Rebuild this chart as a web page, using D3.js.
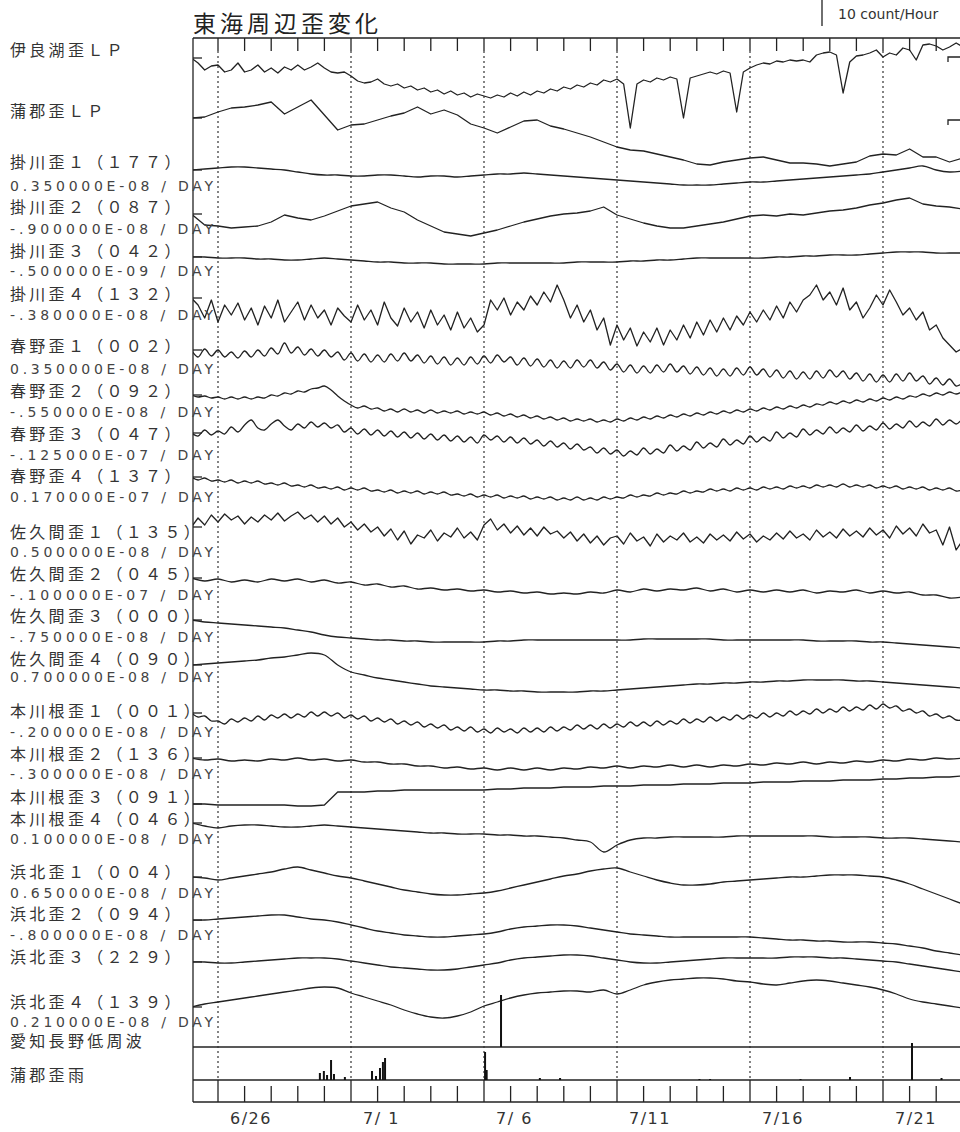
<!DOCTYPE html>
<html><head><meta charset="utf-8">
<script src="https://cdn.jsdelivr.net/npm/d3@7"></script>
<style>
body{margin:0;background:#fff}
svg{display:block}
</style></head>
<body>
<svg id="chart" width="960" height="1132"></svg>
<script>
// ---------------- DATA ----------------
// time axis: days since 6/25 00:00
const labelDays = [1, 6, 11, 16, 21, 26];
const dateLabels = ["6/26", "7/ 1", "7/ 6", "7/11", "7/16", "7/21"];
const tickDays = d3.range(1, 29);

const stationNames = ["伊良湖歪ＬＰ","蒲郡歪ＬＰ","掛川歪１（１７７）","掛川歪２（０８７）","掛川歪３（０４２）","掛川歪４（１３２）",
  "春野歪１（００２）","春野歪２（０９２）","春野歪３（０４７）","春野歪４（１３７）",
  "佐久間歪１（１３５）","佐久間歪２（０４５）","佐久間歪３（０００）","佐久間歪４（０９０）",
  "本川根歪１（００１）","本川根歪２（１３６）","本川根歪３（０９１）","本川根歪４（０４６）",
  "浜北歪１（００４）","浜北歪２（０９４）","浜北歪３（２２９）","浜北歪４（１３９）","愛知長野低周波","蒲郡歪雨"];
const rateLabels = [null,null,"0.350000E-08 / DAY","-.900000E-08 / DAY","-.500000E-09 / DAY","-.380000E-08 / DAY",
  "0.350000E-08 / DAY","-.550000E-08 / DAY","-.125000E-07 / DAY","0.170000E-07 / DAY",
  "0.500000E-08 / DAY","-.100000E-07 / DAY","-.750000E-08 / DAY","0.700000E-08 / DAY",
  "-.200000E-08 / DAY","-.300000E-08 / DAY",null,"0.100000E-08 / DAY",
  "0.650000E-08 / DAY","-.800000E-08 / DAY",null,"0.210000E-08 / DAY",null,null];

// strain traces (relative level, arbitrary units; 6-hourly or 12-hourly samples)
const irakoLP = [2,-3,-10,-6, -5,-12,-10,-3, -12,-10,-5,-12, -8,-13,-7,-10, -5,-10,-7,-3, -8,-12,-13,-12,
  -16,-21,-23,-22, -19,-24,-26,-24, -28,-26,-30,-28, -32,-30,-34,-31, -35,-33,-37,-34, -36,-38,-35,-37,
  -33,-36,-32,-35, -31,-33,-29,-31, -27,-29,-25,-27, -23,-25,-20,-22, -19,-24,-68,-24, -20,-22,-18,-20,
  -17,-19,-58,-18, -16,-14,-12,-14, -11,-13,-52,-12, -8,-5,-3,-4, -1,-2,0,-1, 0,-2,5,7, 8,5,-33,-2,
  4,5,7,10, 3,7,5,12, 10,0,15,16, 14,10,13,17, 13];
const gamagoriLP = [0,1,6,10,11,13,16,4,11,18, 3,-12,-7,-6,-2,2,5,11,4,8, 3,-6,-10,-15,-9,-3,-2,-8,-11,-15,
  -19,-24,-29,-32,-33,-36,-39,-42,-46,-47, -44,-42,-40,-39,-42,-45,-45,-46,-48,-46, -44,-38,-36,-37,-31,-39,-39,-44,-40];
const kakegawa1 = [0,1,2,3,3,2,1,0,-2,-4, -5,-5,-6,-6,-5,-5,-6,-7,-6,-6, -7,-6,-5,-4,-4,-3,-4,-5,-6,-7,
  -8,-9,-10,-11,-12,-13,-14,-15,-15,-15, -14,-13,-12,-12,-11,-10,-9,-8,-7,-6, -5,-4,-2,0,2,4,0,-2,-1];
const kakegawa2 = [-1,-12,-13,-15,-14,-13,-9,-2,-5,-7, -3,2,7,9,11,5,1,-7,-13,-19, -21,-23,-20,-17,-13,-9,-6,-3,-1,0,
  2,6,-2,-6,-10,-13,-15,-15,-13,-11, -9,-6,-3,-2,-3,-1,-2,0,2,3, 5,8,10,13,15,9,7,6,4];
const kakegawa3 = [0,0,-1,-1,-1,-2,-2,-3,-3,-2, -1,-2,-3,-4,-5,-5,-6,-6,-6,-7, -7,-7,-7,-6,-6,-6,-6,-6,-6,-5,
  -5,-5,-5,-4,-4,-3,-3,-2,-1,-1, -1,-1,-1,-1,0,0,1,1,2,2, 2,3,4,5,5,5,4,4,4];
const kakegawa4 = [0,-7,-20,-2, -24,-7,-17,-5, -22,-10,-27,-8, -20,-2,-24,-14, -4,-22,-7,-20, -12,-27,-10,-18,
  -24,-7,-22,-12, -27,-4,-20,-28, -10,-24,-14,-30, -12,-27,-17,-32, -14,-30,-20,-34, -27,-2,-12,0,
  -17,-4,-12,2, -7,6,-4,13, -2,-20,-7,-24, -12,-32,-20,-47, -27,-42,-30,-48, -34,-44,-30,-47,
  -32,-42,-27,-40, -24,-37,-22,-34, -20,-32,-18,-27, -14,-24,-12,-22, -8,-20,-4,-14, -2,3,13,-2,
  6,-7,10,-12, -4,-20,-10,3, -7,8,-4,-17, -10,-22,-14,-32, -27,-40,-47,-54, -50];
const haruno1 = [0,-7,1,-6, 0,-7,-2,-8, -1,-7,0,-6, 2,-4,7,-3, 3,-5,1,-6, 0,-7,-2,-10, -3,-11,-4,-12,
  -5,-12,-4,-11, -3,-11,-5,-13, -6,-14,-7,-15, -8,-15,-7,-14, -6,-13,-5,-12, -7,-15,-8,-16, -9,-17,-10,-18,
  -11,-18,-10,-17, -10,-18,-12,-20, -14,-22,-15,-23, -16,-23,-15,-22, -14,-22,-16,-24, -17,-25,-18,-26,
  -19,-26,-18,-25, -17,-25,-19,-27, -20,-28,-21,-29, -22,-29,-21,-28, -20,-27,-21,-29, -23,-31,-24,-32,
  -25,-32,-24,-31, -23,-31,-26,-34, -28,-35,-29,-36, -33];
const haruno2 = [0,-2,-1,-3, -2,-4,-2,-4, -2,-4,-2,-3, 0,-1,2,1, 4,3,6,7, 9,5,-1,-6, -10,-13,-11,-14,
  -13,-16,-14,-17, -14,-17,-15,-18, -15,-18,-16,-18, -16,-19,-17,-19, -17,-20,-18,-21, -19,-22,-20,-23,
  -21,-24,-22,-25, -23,-26,-24,-26, -24,-27,-25,-27, -24,-26,-23,-25, -22,-24,-21,-23, -20,-22,-19,-21,
  -18,-20,-17,-19, -16,-18,-15,-17, -14,-16,-13,-15, -12,-14,-11,-13, -10,-12,-9,-10, -7,-9,-6,-8,
  -5,-7,-4,-6, -3,-5,-2,-4, -1,-2,1,-1, 2,0,3,1, 4];
const haruno3 = [0,-3,3,-2, 2,-1,6,1, 8,13,5,3, 9,13,7,3, 9,5,11,6, 10,5,8,1, 5,-1,4,-2, 3,-3,2,-4,
  1,-5,0,-6, -1,-7,-2,-8, -3,-9,-4,-10, -2,-7,-3,-9, -4,-10,-5,-11, -7,-13,-8,-14, -10,-16,-11,-17,
  -14,-20,-15,-21, -17,-23,-18,-22, -15,-21,-16,-20, -12,-18,-13,-17, -9,-15,-10,-14, -6,-12,-7,-11,
  -3,-9,-4,-8, 1,-5,0,-4, 4,-2,3,-1, 6,0,5,1, 8,2,7,3, 10,4,9,5, 12,6,11,7, 14,8,13,9, 15];
const haruno4 = [0,-3,-1,-4, -3,-5,-3,-6, -4,-6,-4,-7, -6,-8,-6,-9, -8,-10,-8,-11, -10,-12,-10,-13,
  -11,-13,-11,-14, -13,-15,-13,-16, -14,-16,-14,-17, -15,-17,-15,-18, -17,-19,-17,-20, -18,-20,-18,-21,
  -19,-21,-19,-22, -20,-22,-20,-23, -21,-23,-20,-23, -21,-23,-20,-22, -20,-21,-18,-20, -18,-19,-16,-18,
  -16,-17,-14,-16, -14,-15,-12,-14, -12,-14,-11,-13, -11,-13,-10,-12, -10,-12,-9,-11, -9,-11,-8,-10,
  -8,-10,-7,-10, -8,-10,-8,-11, -9,-11,-9,-12, -10,-12,-10,-13, -11,-13,-11,-14, -13];
const sakuma1 = [0,9,2,12, 5,13,7,11, 3,10,5,12, 7,14,6,11, 15,8,12,5, 11,3,9,0, 5,-3,3,-5, 0,-9,-2,-13,
  -4,-17,-8,-11, -3,-14,-6,-10, -1,-11,-5,-13, 2,8,-3,3, -6,1,-8,-1, -9,0,-7,-4, -11,-5,-14,-7,
  -16,-9,-18,-11, -9,-17,-6,-14, -10,-19,-7,-15, -9,-13,-6,-15, -10,-16,-7,-13, -8,-14,-5,-12,
  -7,-15,-9,-13, -6,-12,-4,-11, -7,-13,-3,-10, -5,-11,-2,-9, -4,-10,-1,-8, -3,-11,1,-7, -1,-9,3,-6,
  -3,-18,0,-23, -13];
const sakuma2 = [0,-3,-1,-4,-2,-4,-1,-3,-1,-4, -2,-5,-4,-7,-6,-9,-8,-11,-10,-12, -11,-13,-12,-14,-13,-15,-14,-16,-15,-16,
  -14,-15,-12,-14,-11,-13,-11,-12,-10,-13, -11,-14,-12,-14,-12,-14,-12,-15,-13,-14, -12,-15,-13,-15,-14,-17,-17,-20,-19];
const sakuma3 = [0,-2,-3,-4,-5,-6,-7,-8,-10,-12, -15,-17,-18,-19,-20,-20,-21,-21,-22,-22, -22,-22,-22,-21,-21,-20,-20,-20,-20,-20,
  -20,-20,-20,-20,-19,-19,-19,-19,-19,-19, -20,-20,-20,-20,-20,-20,-20,-21,-21,-21, -21,-22,-22,-23,-24,-25,-26,-27,-28];
const sakuma4 = [0,1,2,3,4,5,7,8,10,12, 10,0,-7,-10,-13,-15,-17,-19,-21,-22, -23,-24,-25,-25,-26,-26,-27,-27,-27,-27,
  -26,-26,-25,-24,-23,-22,-21,-20,-19,-19, -18,-18,-17,-17,-16,-16,-15,-15,-15,-15, -16,-16,-17,-18,-19,-20,-21,-22,-23];
const honkawane1 = [0,-4,-3,-8, -8,-11,-6,-9, -5,-8,-3,-7, -2,-5,-1,-5, -1,-4,1,-3, 1,-3,0,-5, -2,-6,-3,-8,
  -5,-9,-6,-11, -8,-12,-9,-14, -11,-15,-12,-17, -14,-18,-14,-19, -16,-20,-15,-19, -16,-20,-15,-19,
  -15,-19,-14,-18, -14,-17,-12,-16, -12,-16,-11,-15, -11,-14,-9,-13, -9,-13,-8,-12, -8,-11,-6,-10,
  -6,-9,-4,-8, -4,-7,-2,-6, -2,-5,0,-4, 0,-3,2,-2, 2,-1,4,0, 4,1,6,2, 6,3,8,4, 9,5,7,2, 4,0,2,-3,
  -1,-5,-3,-7, -7];
const honkawane2 = [0,-2,-1,-3,-2,-3,-1,-2,0,-2, -1,-3,-2,-4,-4,-6,-6,-8,-8,-10, -9,-11,-10,-12,-10,-12,-10,-12,-10,-11,
  -9,-10,-8,-10,-8,-9,-7,-9,-7,-9, -7,-8,-6,-7,-5,-6,-4,-6,-4,-5, -3,-4,-2,-3,-1,-2,0,-1,0];
const honkawane3 = [0,0,-1,-1,-1,-1,-1,-1,-2,-2, -1,12,12,12,13,13,14,14,14,14, 14,14,14,15,15,16,16,16,17,17,
  17,18,18,18,19,19,19,20,20,20, 21,21,21,22,22,22,23,23,23,24, 24,24,25,25,26,26,27,27,28];
const honkawane4 = [0,-3,-5,-3,-2,-2,-3,-4,-4,-3, -2,-3,-4,-5,-6,-7,-8,-9,-10,-10, -11,-11,-11,-12,-12,-13,-13,-14,-15,-17,
  -19,-29,-22,-17,-15,-15,-14,-14,-14,-14, -14,-13,-13,-13,-13,-13,-13,-13,-14,-14, -14,-14,-15,-15,-15,-16,-17,-18,-19];
const hamakita1 = [0,-1,-3,-1,1,3,5,8,10,7, 4,1,-1,-4,-7,-10,-13,-15,-17,-18, -18,-17,-16,-14,-11,-8,-5,-2,1,3,
  6,8,9,5,1,-3,-6,-8,-8,-7, -5,-4,-3,-2,-1,0,0,1,2,2, 2,1,0,-3,-7,-12,-17,-22,-27];
const hamakita2 = [0,0,1,2,3,4,5,5,3,1, 0,-2,-5,-8,-11,-13,-15,-16,-17,-17, -16,-15,-14,-12,-9,-7,-6,-5,-5,-6,
  -8,-10,-12,-14,-15,-16,-17,-17,-17,-17, -17,-17,-17,-18,-19,-20,-20,-21,-21,-22, -22,-22,-23,-24,-26,-28,-31,-33,-35];
const hamakita3 = [0,0,-1,-1,0,1,2,3,4,4, 4,3,1,-1,-3,-5,-6,-7,-8,-8, -7,-5,-3,-1,2,4,5,6,7,7,
  6,4,2,0,-1,-1,0,1,2,3, 4,4,4,4,4,5,5,5,4,4, 3,2,1,0,-2,-4,-6,-8,-10];
const hamakita4 = [0,3,5,7,9,11,13,15,17,19, 20,19,14,10,6,2,-3,-7,-10,-11, -9,-5,1,5,9,12,14,15,16,16,
  15,17,13,17,22,25,27,28,29,29, 28,26,25,23,22,24,26,27,26,24, 22,20,17,13,8,5,3,1,-1];

// low-frequency events (count/hour) and Gamagori rain
const lowFreqDays = [11.64];
const lowFreqCounts = [20];
const rainDays = [4.83, 4.98, 5.10, 5.25, 5.36, 5.77, 6.79, 6.94, 7.09, 7.20, 7.28, 11.04, 11.10, 13.10, 13.86, 19.10, 19.50, 22.90, 24.76, 27.09, 28.20];
const rainMM = [7, 9, 5, 20, 6, 3, 9, 4, 12, 18, 22, 28, 10, 2, 2, 1, 1, 1, 3, 37, 2];

// ---------------- LAYOUT ----------------
const svg = d3.select("#chart");
const L = 193, R = 960, TOP = 38, LF = 1047, RAIN0 = 1080, BOT = 1102;
const x = d3.scaleLinear().domain([0, 29]).range([191.4, 191.4 + 29 * 26.6]);
const ink = "#222";

const traceSpec = [
  {v: irakoLP, step: 0.25, base: 60, curve: d3.curveLinear},
  {v: gamagoriLP, step: 0.5, base: 118, curve: d3.curveLinear},
  {v: kakegawa1, step: 0.5, base: 170, curve: d3.curveCatmullRom},
  {v: kakegawa2, step: 0.5, base: 213, curve: d3.curveLinear},
  {v: kakegawa3, step: 0.5, base: 257, curve: d3.curveCatmullRom},
  {v: kakegawa4, step: 0.25, base: 298, curve: d3.curveLinear},
  {v: haruno1, step: 0.25, base: 350, curve: d3.curveCatmullRom},
  {v: haruno2, step: 0.25, base: 395, curve: d3.curveCatmullRom},
  {v: haruno3, step: 0.25, base: 433, curve: d3.curveCatmullRom},
  {v: haruno4, step: 0.25, base: 477, curve: d3.curveCatmullRom},
  {v: sakuma1, step: 0.25, base: 527, curve: d3.curveLinear},
  {v: sakuma2, step: 0.5, base: 578, curve: d3.curveCatmullRom},
  {v: sakuma3, step: 0.5, base: 620, curve: d3.curveCatmullRom},
  {v: sakuma4, step: 0.5, base: 665, curve: d3.curveCatmullRom},
  {v: honkawane1, step: 0.25, base: 713, curve: d3.curveCatmullRom},
  {v: honkawane2, step: 0.5, base: 758, curve: d3.curveCatmullRom},
  {v: honkawane3, step: 0.5, base: 804, curve: d3.curveLinear},
  {v: honkawane4, step: 0.5, base: 823, curve: d3.curveCatmullRom},
  {v: hamakita1, step: 0.5, base: 877, curve: d3.curveCatmullRom},
  {v: hamakita2, step: 0.5, base: 920, curve: d3.curveCatmullRom},
  {v: hamakita3, step: 0.5, base: 962, curve: d3.curveCatmullRom},
  {v: hamakita4, step: 0.5, base: 1007, curve: d3.curveCatmullRom}
];
const nameY = [56,117,168,213,257,300,352,397,440,482,538,580,622,665,717,760,803,825,878,920,963,1008,1047,1081];
const rateY = [0,0,191,234,276,320,374,417,460,502,557,600,642,682,737,779,0,844,898,940,0,1027,0,0];

svg.append("defs").append("clipPath").attr("id", "plotclip")
  .append("rect").attr("x", L).attr("y", TOP).attr("width", R - L).attr("height", LF - TOP);

// title
svg.append("text").attr("x", 193).attr("y", 32)
  .attr("font-family", "'Noto Sans CJK JP', sans-serif").attr("font-size", 23)
  .attr("letter-spacing", 4).attr("fill", "#222").text("東海周辺歪変化");

// count key
svg.append("line").attr("x1", 822).attr("x2", 822).attr("y1", 0).attr("y2", 26)
  .attr("stroke", ink).attr("stroke-width", 1.3);
svg.append("text").attr("x", 838).attr("y", 19)
  .attr("font-family", "'DejaVu Sans', sans-serif").attr("font-size", 14)
  .attr("fill", "#333").text("10 count/Hour");

// frame
const frame = svg.append("g").attr("stroke", ink).attr("stroke-width", 1.3).attr("fill", "none");
frame.append("line").attr("x1", L).attr("x2", R).attr("y1", TOP).attr("y2", TOP);
frame.append("line").attr("x1", L).attr("x2", L).attr("y1", TOP).attr("y2", BOT);
frame.append("line").attr("x1", L).attr("x2", R).attr("y1", LF).attr("y2", LF);
frame.append("line").attr("x1", L).attr("x2", R).attr("y1", RAIN0).attr("y2", RAIN0);
frame.append("line").attr("x1", L).attr("x2", R).attr("y1", BOT).attr("y2", BOT);

// ticks top and bottom
tickDays.forEach(d => {
  const major = labelDays.includes(d);
  frame.append("line").attr("x1", x(d)).attr("x2", x(d)).attr("y1", TOP).attr("y2", TOP + 13);
  frame.append("line").attr("x1", x(d)).attr("x2", x(d)).attr("y1", major ? RAIN0 : RAIN0 + 6).attr("y2", BOT);
});

// dashed day lines
svg.append("g").selectAll("line").data(labelDays).join("line")
  .attr("x1", d => x(d)).attr("x2", d => x(d)).attr("y1", TOP + 13).attr("y2", RAIN0)
  .attr("stroke", "#333").attr("stroke-width", 1.2).attr("stroke-dasharray", "2,3");

// date labels
svg.append("g").selectAll("text").data(labelDays).join("text")
  .attr("x", d => x(d) + 12).attr("y", 1124)
  .attr("font-family", "'DejaVu Sans', sans-serif").attr("font-size", 16)
  .attr("letter-spacing", 1.5).attr("fill", "#333")
  .text((d, i) => dateLabels[i]);

// traces
const tg = svg.append("g").attr("clip-path", "url(#plotclip)");
traceSpec.forEach(t => {
  const y = d3.scaleLinear().domain([0, 10]).range([t.base, t.base - 10]);
  const line = d3.line().x((d, i) => x(i * t.step)).y(d => y(d)).curve(t.curve);
  tg.append("path").attr("d", line(t.v)).attr("fill", "none")
    .attr("stroke", ink).attr("stroke-width", 1.3).attr("stroke-linejoin", "round");
  tg.append("line").attr("x1", L).attr("x2", L + 9)
    .attr("y1", y(t.v[0])).attr("y2", y(t.v[0])).attr("stroke", ink).attr("stroke-width", 1.3);
});

// right-edge reference marks
[57, 120].forEach(yy => {
  svg.append("path").attr("d", `M948,${yy + 5}V${yy}H960`).attr("fill", "none")
    .attr("stroke", ink).attr("stroke-width", 1.3);
});

// low-frequency events
const yLF = d3.scaleLinear().domain([0, 10]).range([LF, LF - 26]);
svg.append("g").selectAll("rect").data(lowFreqDays).join("rect")
  .attr("x", d => x(d) - 1).attr("width", 2)
  .attr("y", (d, i) => yLF(lowFreqCounts[i])).attr("height", (d, i) => LF - yLF(lowFreqCounts[i]))
  .attr("fill", "#111");

// rain
const yRain = d3.scaleLinear().domain([0, 10]).range([RAIN0, RAIN0 - 10]);
svg.append("g").selectAll("rect").data(rainDays).join("rect")
  .attr("x", d => x(d) - 1).attr("width", 2)
  .attr("y", (d, i) => yRain(rainMM[i])).attr("height", (d, i) => RAIN0 - yRain(rainMM[i]))
  .attr("fill", "#111");

// labels
const lab = svg.append("g");
stationNames.forEach((s, i) => {
  lab.append("text").attr("x", 10).attr("y", nameY[i])
    .attr("font-family", "'Noto Sans CJK JP', sans-serif").attr("font-size", 16)
    .attr("letter-spacing", 3.3).attr("fill", "#333").text(s);
  if (rateLabels[i]) {
    lab.append("text").attr("x", 10).attr("y", rateY[i])
      .attr("font-family", "'DejaVu Sans', sans-serif").attr("font-size", 14)
      .attr("textLength", 203).attr("lengthAdjust", "spacing")
      .attr("fill", "#444").text(rateLabels[i]);
  }
});
</script>
</body></html>
